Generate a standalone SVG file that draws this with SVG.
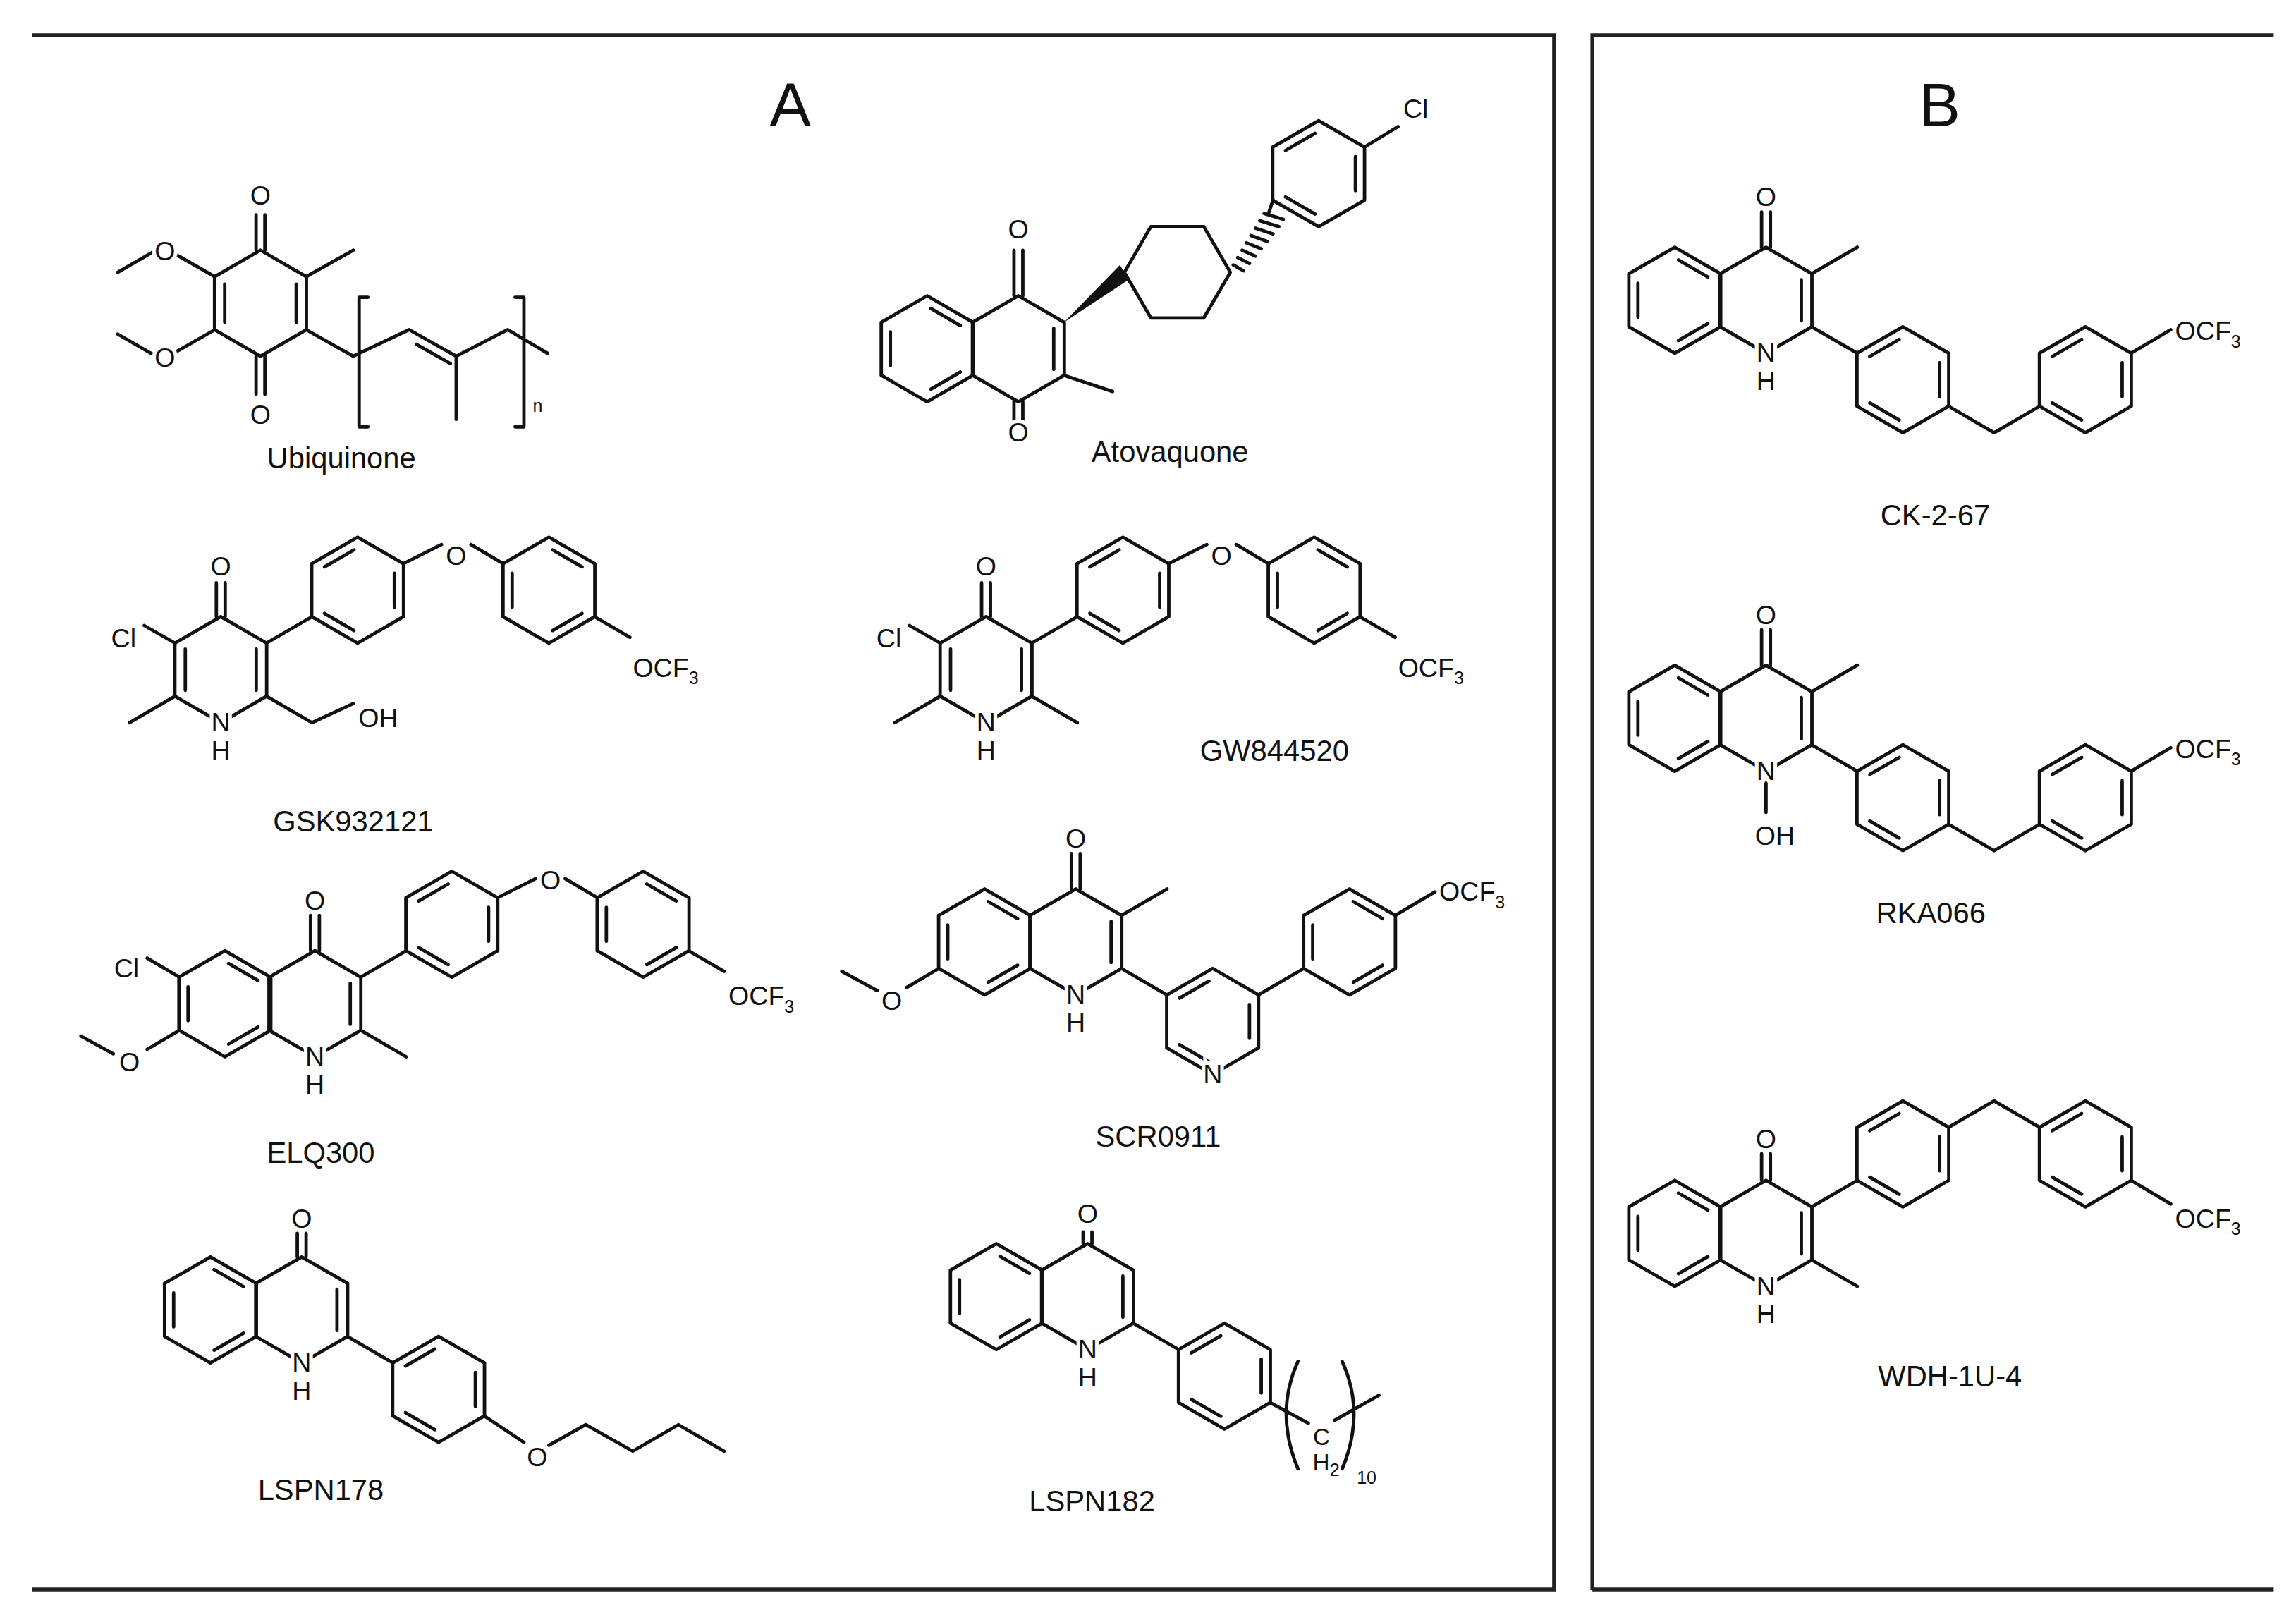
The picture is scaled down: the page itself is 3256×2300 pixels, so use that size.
<svg xmlns="http://www.w3.org/2000/svg" xmlns:xlink="http://www.w3.org/1999/xlink" width="3256" height="2300" viewBox="0 0 3256 2300">
<style>
.b{fill:none;stroke:#111;stroke-width:2.3;stroke-linecap:round;stroke-linejoin:round}
.f{fill:none;stroke:#222;stroke-width:2.6}
text{font-family:"Liberation Sans",Arial,sans-serif;fill:#111}
.a{font-size:18px;text-anchor:middle;stroke:#fff;stroke-width:5;paint-order:stroke}
.l{font-size:20px;text-anchor:middle}
.s{font-size:12px}
</style>
<defs>
<path id="hex" class="b" d="M0,-36 L31.2,-18 L31.2,18 L0,36 L-31.2,18 L-31.2,-18 Z"/>
<path id="iA" class="b" d="M2.5,-27.4 L22.5,-15.8 M22.5,15.8 L2.5,27.4 M-25,11.5 L-25,-11.5"/>
<path id="iB" class="b" d="M25,-11.5 L25,11.5 M-2.5,27.4 L-22.5,15.8 M-22.5,-15.8 L-2.5,-27.4"/>
</defs>
<rect width="3256" height="2300" fill="#fff"/>
<g transform="scale(2.087)">
<g id="frames">
<path class="f" d="M22,24 H1056 V1080 H22 M1082,1080 V24 H1545 M1082,1080 H1545"/>
<text x="537" y="86" style="font-size:42px;text-anchor:middle">A</text>
<text x="1318" y="86" style="font-size:42px;text-anchor:middle">B</text>
</g>

<g id="ubiquinone">
<use href="#hex" x="177" y="206"/>
<path class="b" d="M201.3,193 V219 M152.7,193 V219 M174,170 V146 M180,170 V146 M174,242 V268 M180,242 V268 M146,188 L118,172 M106,170 L80,185 M146,224 L118,240 M106,242 L80,227 M208,188 L240,170 M208,224 L240,242 L278,224 L310,242 L345,224 L372,240 M283,234 L306,247 M310,242 V285 M250,202 H244 V290 H250 M350,202 H356 V290 H350"/>
<text class="a" x="177" y="139">O</text><text class="a" x="177" y="288">O</text>
<text class="a" x="112" y="177">O</text><text class="a" x="112" y="249">O</text>
<text x="362" y="280" class="s">n</text>
<text class="l" x="232" y="318">Ubiquinone</text>
</g>

<g id="atovaquone">
<use href="#hex" x="630" y="237"/><use href="#iA" x="630" y="237"/>
<use href="#hex" x="692" y="237"/>
<path class="b" d="M716,223 V251 M689,201 V170 M695,201 V170 M689,273 V287 M695,273 V287 M723,255 L756,266 M764,185 L782,154 L818,154 L836,185 L818,216 L782,216 Z M927,100 L950,86"/>
<polygon points="723,219 761,180 767,190" fill="#111"/>
<path class="b" d="M838,180 L845,184 M841,175 L849,179 M844,170 L853,174 M847,165 L857,169 M850,160 L861,164 M853,155 L865,159 M856,150 L869,154 M859,145 L872,149"/>
<use href="#hex" x="896" y="118"/><use href="#iB" x="896" y="118"/>
<path class="b" d="M862,145 L865,136"/>
<text class="a" x="692" y="162">O</text><text class="a" x="692" y="300">O</text>
<text class="a" x="962" y="80">Cl</text>
<text class="l" x="795" y="314">Atovaquone</text>
</g>

<g id="gsk932121">
<use href="#hex" x="150" y="455"/>
<path class="b" d="M125.9,441 V469 M174.1,441 V469 M147,419 V396 M153,419 V396 M119,437 L98,425 M119,473 L88,491 M181,473 L212,491 L240,478 M181,437 L212,419 M274,383 L300,370 M320,370 L342,383 M404,419 L428,433"/>
<use href="#hex" x="243" y="401"/><use href="#iB" x="243" y="401"/>
<use href="#hex" x="373" y="401"/><use href="#iA" x="373" y="401"/>
<text class="a" x="150" y="391">O</text><text class="a" x="84" y="440">Cl</text>
<text class="a" x="150" y="497">N</text><text class="a" x="150" y="516">H</text>
<text class="a" x="257" y="494">OH</text><text class="a" x="310" y="384">O</text>
<text x="430" y="460" style="font-size:18px">OCF<tspan class="s" dy="5">3</tspan></text>
<text class="l" x="240" y="565">GSK932121</text>
</g>

<g id="gw844520">
<use href="#hex" x="670" y="455"/>
<path class="b" d="M645.9,441 V469 M694.1,441 V469 M667,419 V396 M673,419 V396 M639,437 L618,425 M639,473 L608,491 M701,473 L732,491 M701,437 L732,419 M794,383 L820,370 M840,370 L862,383 M924,419 L948,433"/>
<use href="#hex" x="763" y="401"/><use href="#iB" x="763" y="401"/>
<use href="#hex" x="893" y="401"/><use href="#iA" x="893" y="401"/>
<text class="a" x="670" y="391">O</text><text class="a" x="604" y="440">Cl</text>
<text class="a" x="670" y="497">N</text><text class="a" x="670" y="516">H</text>
<text class="a" x="830" y="384">O</text>
<text x="950" y="460" style="font-size:18px">OCF<tspan class="s" dy="5">3</tspan></text>
<text class="l" x="866" y="517">GW844520</text>
</g>

<g id="elq300">
<use href="#hex" x="152.8" y="682"/><use href="#iA" x="152.8" y="682"/>
<use href="#hex" x="214" y="682"/>
<path class="b" d="M238,668 V696 M211,646 V622 M217,646 V622 M122,664 L100,651 M122,700 L100,713 M77,716 L55,704 M245,700 L276,718 M245,664 L276,646 M338,610 L364,597 M384,597 L406,610 M468,646 L492,660"/>
<use href="#hex" x="307" y="628"/><use href="#iB" x="307" y="628"/>
<use href="#hex" x="437" y="628"/><use href="#iA" x="437" y="628"/>
<text class="a" x="214" y="618">O</text><text class="a" x="86" y="664">Cl</text>
<text class="a" x="88" y="728">O</text>
<text class="a" x="214" y="724">N</text><text class="a" x="214" y="743">H</text>
<text class="a" x="374" y="604">O</text>
<text x="495" y="683" style="font-size:18px">OCF<tspan class="s" dy="5">3</tspan></text>
<text class="l" x="218" y="790">ELQ300</text>
</g>

<g id="scr0911">
<use href="#hex" x="669" y="640"/><use href="#iA" x="669" y="640"/>
<use href="#hex" x="731" y="640"/>
<path class="b" d="M755,626 V654 M728,604 V580 M734,604 V580 M762,622 L793,604 M638,658 L616,671 M596,673 L572,660 M762,658 L793,676 M855,676 L886,658 M948,622 L975,606"/>
<use href="#hex" x="824" y="694"/><use href="#iB" x="824" y="694"/>
<use href="#hex" x="917" y="640"/><use href="#iA" x="917" y="640"/>
<text class="a" x="731" y="576">O</text><text class="a" x="606" y="686">O</text>
<text class="a" x="731" y="682">N</text><text class="a" x="731" y="701">H</text>
<text class="a" x="824" y="736">N</text>
<text x="978" y="612" style="font-size:18px">OCF<tspan class="s" dy="5">3</tspan></text>
<text class="l" x="787" y="779">SCR0911</text>
</g>

<g id="lspn178">
<use href="#hex" x="143" y="890"/><use href="#iA" x="143" y="890"/>
<use href="#hex" x="205" y="890"/>
<path class="b" d="M229,876 V904 M202,854 V838 M208,854 V838 M236,908 L267,926 M329,962 L356,980 M373,982 L398,968 L430,986 L461,968 L492,986"/>
<use href="#hex" x="298" y="944"/><use href="#iB" x="298" y="944"/>
<text class="a" x="205" y="834">O</text>
<text class="a" x="205" y="932">N</text><text class="a" x="205" y="951">H</text>
<text class="a" x="365" y="996">O</text>
<text class="l" x="218" y="1019">LSPN178</text>
</g>

<g id="lspn182">
<use href="#hex" x="677" y="881"/><use href="#iA" x="677" y="881"/>
<use href="#hex" x="739" y="881"/>
<path class="b" d="M763,867 V895 M736,845 V837 M742,845 V837 M770,899 L801,917 M863,953 L889,967 M907,965 L937,948 M882,925 Q866,960 882,998 M912,925 Q928,960 912,998"/>
<use href="#hex" x="832" y="935"/><use href="#iB" x="832" y="935"/>
<text class="a" x="739" y="831">O</text>
<text class="a" x="739" y="923">N</text><text class="a" x="739" y="942">H</text>
<text x="898" y="982" style="font-size:16px;text-anchor:middle">C</text>
<text x="892" y="999" style="font-size:16px">H<tspan class="s" dy="4">2</tspan></text>
<text x="922" y="1008" class="s">10</text>
<text class="l" x="742" y="1027">LSPN182</text>
</g>

<g id="ck267">
<use href="#hex" x="1138" y="204"/><use href="#iA" x="1138" y="204"/>
<use href="#hex" x="1200" y="204"/>
<path class="b" d="M1224,190 V218 M1197,168 V144 M1203,168 V144 M1231,186 L1262,168 M1231,222 L1262,240 M1324,276 L1355,294 L1386,276 M1448,240 L1475,224"/>
<use href="#hex" x="1293" y="258"/><use href="#iB" x="1293" y="258"/>
<use href="#hex" x="1417" y="258"/><use href="#iB" x="1417" y="258"/>
<text class="a" x="1200" y="140">O</text>
<text class="a" x="1200" y="246">N</text><text class="a" x="1200" y="265">H</text>
<text x="1478" y="231" style="font-size:18px">OCF<tspan class="s" dy="5">3</tspan></text>
<text class="l" x="1315" y="357">CK-2-67</text>
</g>

<g id="rka066">
<use href="#hex" x="1138" y="488"/><use href="#iA" x="1138" y="488"/>
<use href="#hex" x="1200" y="488"/>
<path class="b" d="M1224,474 V502 M1197,452 V428 M1203,452 V428 M1231,470 L1262,452 M1231,506 L1262,524 M1200,532 V552 M1324,560 L1355,578 L1386,560 M1448,524 L1475,508"/>
<use href="#hex" x="1293" y="542"/><use href="#iB" x="1293" y="542"/>
<use href="#hex" x="1417" y="542"/><use href="#iB" x="1417" y="542"/>
<text class="a" x="1200" y="424">O</text>
<text class="a" x="1200" y="530">N</text><text class="a" x="1206" y="574">OH</text>
<text x="1478" y="515" style="font-size:18px">OCF<tspan class="s" dy="5">3</tspan></text>
<text class="l" x="1312" y="627">RKA066</text>
</g>

<g id="wdh1u4">
<use href="#hex" x="1138" y="838"/><use href="#iA" x="1138" y="838"/>
<use href="#hex" x="1200" y="838"/>
<path class="b" d="M1224,824 V852 M1197,802 V784 M1203,802 V784 M1231,820 L1262,802 M1231,856 L1262,874 M1324,766 L1355,748 L1386,766 M1448,802 L1475,818"/>
<use href="#hex" x="1293" y="784"/><use href="#iB" x="1293" y="784"/>
<use href="#hex" x="1417" y="784"/><use href="#iB" x="1417" y="784"/>
<text class="a" x="1200" y="780">O</text>
<text class="a" x="1200" y="880">N</text><text class="a" x="1200" y="899">H</text>
<text x="1478" y="834" style="font-size:18px">OCF<tspan class="s" dy="5">3</tspan></text>
<text class="l" x="1325" y="942">WDH-1U-4</text>
</g>
</g>
</svg>
